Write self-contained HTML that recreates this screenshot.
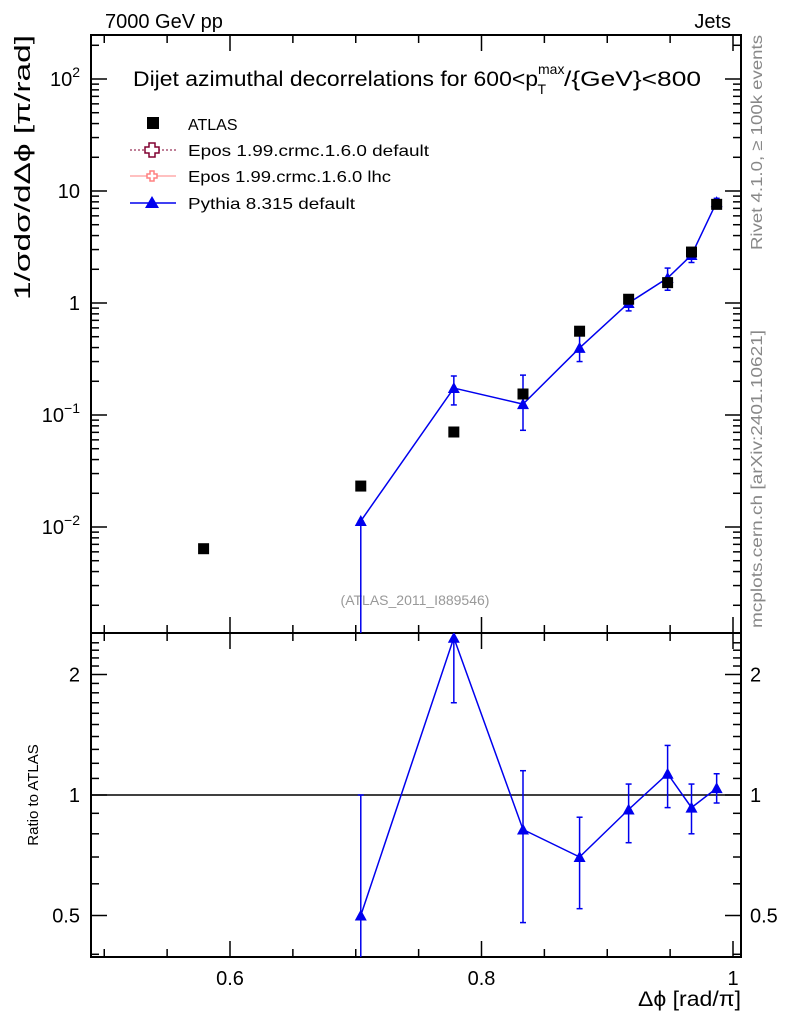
<!DOCTYPE html>
<html><head><meta charset="utf-8"><style>
body{margin:0;background:#fff;width:786px;height:1024px;overflow:hidden}
text{font-family:"Liberation Sans",sans-serif}
</style></head><body>
<svg id="c" width="786" height="1024" xmlns="http://www.w3.org/2000/svg"></svg>
<script>
const xs=[0.704,0.778,0.833,0.878,0.917,0.948,0.967,0.987];
const atlasX=[0.579,0.704,0.778,0.833,0.878,0.917,0.948,0.967,0.987];
const atlasY=[0.0064,0.0232,0.0705,0.154,0.56,1.08,1.52,2.85,7.6];
const pyY=[0.0113,0.174,0.125,0.397,1.0,1.67,2.68,7.96];
const pyHi=[0.0113,0.223,0.227,0.518,1.18,2.05,3.1,8.6];
const pyLo=[0.0003,0.123,0.073,0.30,0.85,1.3,2.3,7.3];
const ratio=[0.5,2.47,0.82,0.70,0.92,1.13,0.93,1.04];
const rHi=[1.0,3.0,1.15,0.88,1.065,1.33,1.065,1.13];
const rLo=[0.3,1.7,0.48,0.52,0.76,0.93,0.8,0.955];
const xTicks=[0.6,0.8,1];
const yTicks=[[100,"10","2"],[10,"10",""],[1,"1",""],[0.1,"10","−1"],[0.01,"10","−2"]];
const rTicks=[[2,"2"],[1,"1"],[0.5,"0.5"]];

const L=91,R=741,T=35,M=633,B=957;
const X=v=>230+(v-0.6)*1257.5;
const Y=v=>303-112*Math.log10(v);
const RY=v=>795-120.5*Math.log2(v);
const svg=document.getElementById('c');
const NS="http://www.w3.org/2000/svg";
function el(t,a,p){const e=document.createElementNS(NS,t);for(const k in a)e.setAttribute(k,a[k]);(p||svg).appendChild(e);return e;}
function txt(x,y,s,sz,anch,fill){const e=el('text',{x:x,y:y,'font-size':sz,'text-anchor':anch||'start',fill:fill||'#000'});e.textContent=s;return e;}
function fit(e,len){e.setAttribute('textLength',len);e.setAttribute('lengthAdjust','spacingAndGlyphs');}

const defs=el('defs',{});
const c1=el('clipPath',{id:'cm'},defs);el('rect',{x:L,y:T,width:R-L,height:M-T},c1);
const c2=el('clipPath',{id:'cr'},defs);el('rect',{x:L,y:M,width:R-L,height:B-M},c2);

let f=el('rect',{x:L,y:T,width:R-L,height:M-T,fill:'none',stroke:'#000','stroke-width':2});

f=el('rect',{x:L,y:M,width:R-L,height:B-M,fill:'none',stroke:'#000','stroke-width':2});


for(let v=0.5;v<=1.0001;v+=0.05){const x=X(v);const maj=Math.abs(v*5-Math.round(v*5))<1e-6;const l=maj?16:8;
 [[T,1],[M,-1],[M,1],[B,-1]].forEach(([y,d])=>el('line',{x1:x,x2:x,y1:y,y2:y+d*l,stroke:'#000','stroke-width':1.5}));}
xTicks.forEach(v=>{const t=txt(X(v),985,String(v),20,'middle');});
let xt=txt(638,1006,"Δϕ [rad/π]",21,'start');fit(xt,103);

for(let e=-3;e<=2;e++)for(let m=1;m<=9;m++){const v=m*Math.pow(10,e);const y=Y(v);if(y<T||y>M)continue;const l=m==1?16:8;
 el('line',{x1:L,x2:L+l,y1:y,y2:y,stroke:'#000','stroke-width':1.5});el('line',{x1:R,x2:R-l,y1:y,y2:y,stroke:'#000','stroke-width':1.5});}
yTicks.forEach(([v,b,s])=>{const g=el('text',{x:80,y:Y(v)+7,'font-size':20,'text-anchor':'end'});
 if(s){const a=el('tspan',{},g);a.textContent=b;const c=el('tspan',{dy:-9,'font-size':14},g);c.textContent=s;}else g.textContent=b;});
let yt=txt(0,0,"1/σdσ/dΔϕ [π/rad]",22,'start');fit(yt,265);yt.setAttribute('transform','translate(30,300) rotate(-90)');


for(let v=0.4;v<=2.5;v+=0.1){const y=RY(v);if(y<M||y>B)continue;const maj=rTicks.some(r=>Math.abs(r[0]-v)<1e-6);const l=maj?16:8;
 el('line',{x1:L,x2:L+l,y1:y,y2:y,stroke:'#000','stroke-width':1.5});el('line',{x1:R,x2:R-l,y1:y,y2:y,stroke:'#000','stroke-width':1.5});}
rTicks.forEach(([v,s])=>{let t=txt(80,RY(v)+7,s,20,'end');
 t=txt(750,RY(v)+7,s,20,'start');});
let rt=txt(0,0,"Ratio to ATLAS",15,'middle');rt.setAttribute('transform','translate(38,795) rotate(-90)');


let t=txt(105,28,"7000 GeV pp",20);
t=txt(731,28,"Jets",20,'end');
const ti=el('text',{x:133,y:86,'font-size':21});
ti.innerHTML='<tspan textLength="405" lengthAdjust="spacingAndGlyphs">Dijet azimuthal decorrelations for 600&lt;p</tspan><tspan dy="-12" font-size="14">max</tspan><tspan dx="-27" dy="20" font-size="14">T</tspan><tspan dx="18" dy="-8" textLength="137" lengthAdjust="spacingAndGlyphs">/{GeV}&lt;800</tspan>';
t=txt(415,605,"(ATLAS_2011_I889546)",14,'middle','#999');
t=txt(0,0,"Rivet 4.1.0, ≥ 100k events",16,'start','#888');fit(t,215);t.setAttribute('transform','translate(762,250) rotate(-90)');
t=txt(0,0,"mcplots.cern.ch [arXiv:2401.10621]",16,'start','#888');fit(t,298);t.setAttribute('transform','translate(762,628) rotate(-90)');

const lg=el('g',{});
el('rect',{x:147,y:117,width:12,height:12,fill:'#000'},lg);
let lt=el('text',{x:188,y:130,'font-size':16},lg);lt.textContent="ATLAS";
el('line',{x1:130,x2:176,y1:150,y2:150,stroke:'#800030','stroke-dasharray':'2,2'},lg);
el('path',{d:'M149,143h6v4h4v6h-4v4h-6v-4h-4v-6h4z',fill:'#fff',stroke:'#800030','stroke-width':1.5},lg);
lt=el('text',{x:188,y:156,'font-size':16,textLength:241,lengthAdjust:'spacingAndGlyphs'},lg);lt.textContent="Epos 1.99.crmc.1.6.0 default";
el('line',{x1:130,x2:176,y1:176,y2:176,stroke:'#ff8080'},lg);
el('path',{d:'M150,171h4v3h3v4h-3v3h-4v-3h-3v-4h3z',fill:'#fff',stroke:'#ff8080','stroke-width':1.5},lg);
lt=el('text',{x:188,y:182,'font-size':16,textLength:203,lengthAdjust:'spacingAndGlyphs'},lg);lt.textContent="Epos 1.99.crmc.1.6.0 lhc";
el('line',{x1:130,x2:176,y1:203,y2:203,stroke:'#0000ee','stroke-width':1.5},lg);
el('path',{d:'M152,196l7,12h-14z',fill:'#0000ee'},lg);
lt=el('text',{x:188,y:209,'font-size':16,textLength:167,lengthAdjust:'spacingAndGlyphs'},lg);lt.textContent="Pythia 8.315 default";

const gm=el('g',{'clip-path':'url(#cm)'});
const pyL=el('polyline',{points:xs.map((x,i)=>X(x)+','+Y(pyY[i])).join(' '),fill:'none',stroke:'#0000ee','stroke-width':1.5},gm);

xs.forEach((x,i)=>{const e=el('line',{x1:X(x),x2:X(x),y1:Y(pyHi[i]),y2:Math.min(Y(pyLo[i]),M),stroke:'#0000ee','stroke-width':1.5},gm);
 
 [pyHi[i],pyLo[i]].forEach(v=>el('line',{x1:X(x)-3,x2:X(x)+3,y1:Y(v),y2:Y(v),stroke:'#0000ee','stroke-width':1.5},gm));
 const p=el('path',{d:`M${X(x)},${Y(pyY[i])-6}l6,11h-12z`,fill:'#0000ee'},gm);
 });
atlasX.forEach((x,i)=>{const r=el('rect',{x:X(x)-5.5,y:Y(atlasY[i])-5.5,width:11,height:11,fill:'#000'},gm);
 });

const gr=el('g',{'clip-path':'url(#cr)'});
el('line',{x1:L,x2:R,y1:RY(1),y2:RY(1),stroke:'#000','stroke-width':1.5},gr);
const rl=el('polyline',{points:xs.map((x,i)=>X(x)+','+RY(ratio[i])).join(' '),fill:'none',stroke:'#0000ee','stroke-width':1.5},gr);

xs.forEach((x,i)=>{const e=el('line',{x1:X(x),x2:X(x),y1:RY(rHi[i]),y2:RY(rLo[i]),stroke:'#0000ee','stroke-width':1.5},gr);
 
 [rHi[i],rLo[i]].forEach(v=>el('line',{x1:X(x)-3,x2:X(x)+3,y1:RY(v),y2:RY(v),stroke:'#0000ee','stroke-width':1.5},gr));
 const p=el('path',{d:`M${X(x)},${RY(ratio[i])-6}l6,11h-12z`,fill:'#0000ee'},gr);
 });
</script>
</body></html>
